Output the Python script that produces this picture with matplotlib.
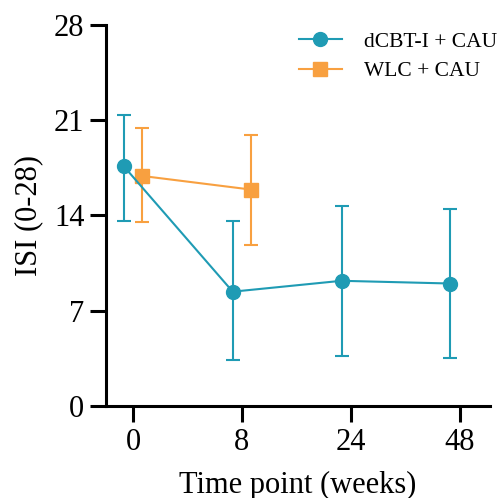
import numpy as np
import matplotlib
matplotlib.use('Agg')
import matplotlib.pyplot as plt
from matplotlib.lines import Line2D

plt.rcParams['font.family'] = ['Liberation Serif', 'DejaVu Serif']

timeLabels = ['0', '8', '24', '48']
cbtMean = [17.6, 8.4, 9.2, 9.0]
cbtUpper = [21.4, 13.6, 14.7, 14.5]
cbtLower = [13.6, 3.4, 3.7, 3.5]
wlcMean = [16.9, 15.9]
wlcUpper = [20.4, 19.9]
wlcLower = [13.5, 11.8]

tealColor = '#1f9bb4'
orangeColor = '#f8a040'
offset = 0.085

fig = plt.figure(figsize=(5.01, 4.98), dpi=100)
ax = fig.add_axes([0.2116, 0.1847, 0.7664, 0.7653])

xCbt = np.arange(len(cbtMean)) - offset
xWlc = np.arange(len(wlcMean)) + offset

cbtErr = [np.array(cbtMean) - np.array(cbtLower), np.array(cbtUpper) - np.array(cbtMean)]
wlcErr = [np.array(wlcMean) - np.array(wlcLower), np.array(wlcUpper) - np.array(wlcMean)]

ax.errorbar(xCbt, cbtMean, yerr=cbtErr, color=tealColor, marker='o', markersize=10,
            linewidth=1.5, elinewidth=1.5, capsize=4.7, capthick=1.5, zorder=3)
ax.errorbar(xWlc, wlcMean, yerr=wlcErr, color=orangeColor, marker='s', markersize=10,
            linewidth=1.5, elinewidth=1.5, capsize=4.7, capthick=1.5, zorder=2)

ax.set_ylim(0, 28)
ax.set_yticks([0, 7, 14, 21, 28])
ax.set_xlim(-0.25, 3.28)
ax.set_xticks(range(len(timeLabels)))
ax.set_xticklabels(timeLabels)

for side in ['top', 'right']:
  ax.spines[side].set_visible(False)
for side in ['left', 'bottom']:
  ax.spines[side].set_linewidth(2.2)
ax.tick_params(axis='both', width=2.2, length=11.5, labelsize=22, pad=4)

ax.set_ylabel('ISI (0-28)', fontsize=22, labelpad=8)
ax.set_xlabel('Time point (weeks)', fontsize=22, labelpad=10)

handles = [
  Line2D([], [], color=tealColor, marker='o', markersize=10, linewidth=1.5),
  Line2D([], [], color=orangeColor, marker='s', markersize=10, linewidth=1.5),
]
ax.legend(handles, ['dCBT-I + CAU', 'WLC + CAU'], loc='upper left', bbox_to_anchor=(0.48, 1.005),
          frameon=False, fontsize=15.5, handlelength=2.0, handletextpad=1.0, labelspacing=0.45,
          borderaxespad=0)

fig.savefig('out.png', dpi=100)
